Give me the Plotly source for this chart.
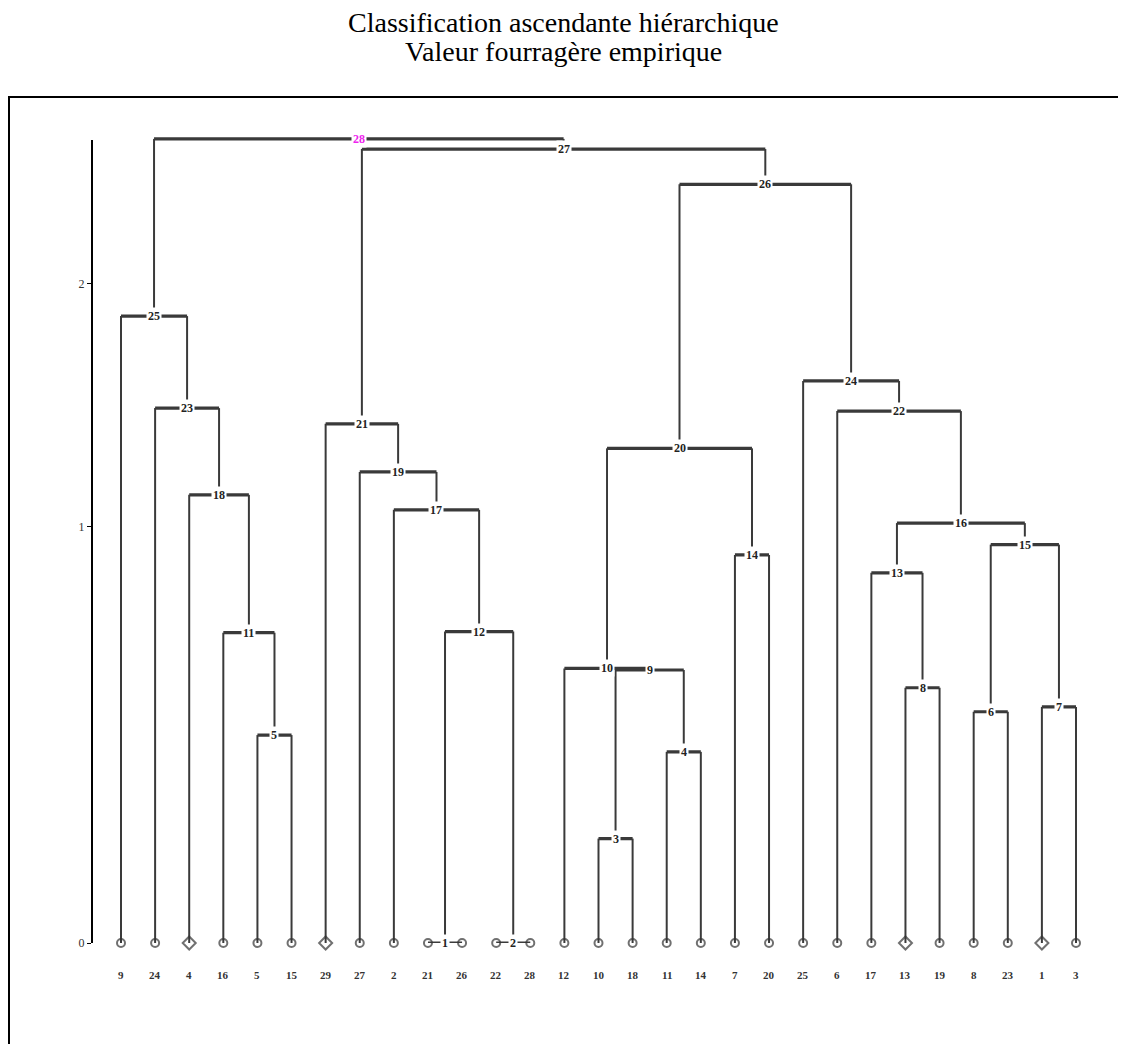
import math
import plotly.graph_objects as go

# ---------------- data ----------------
title_lines = ["Classification ascendante hiérarchique", "Valeur fourragère empirique"]

# leaves in dendrogram order (left to right)
leaf_labels = [9, 24, 4, 16, 5, 15, 29, 27, 2, 21, 26, 22, 28, 12, 10, 18,
               11, 14, 7, 20, 25, 6, 17, 13, 19, 8, 23, 1, 3]
diamond_leaves = [4, 29, 13, 1]

# merges k = 1..28 ; "L<n>" = leaf n, "N<k>" = node k
merge_left = ["L21", "L22", "L10", "L11", "L5", "L8", "L1", "L13", "N3", "L12",
              "L16", "N1", "L17", "L7", "N6", "N13", "L2", "L4", "L27", "N10",
              "L29", "L6", "L24", "L25", "L9", "N20", "N21", "N25"]
merge_right = ["L26", "L28", "L18", "L14", "L15", "L23", "L3", "L19", "N4", "N9",
               "N5", "N2", "N8", "L20", "N7", "N15", "N12", "N11", "N17", "N14",
               "N19", "N16", "N18", "N22", "N23", "N24", "N26", "N27"]
merge_heights = [0.0, 0.0, 0.19, 0.375, 0.414, 0.47, 0.482, 0.53, 0.576, 0.58,
                 0.677, 0.68, 0.853, 0.909, 0.942, 1.013, 1.058, 1.11, 1.192, 1.28,
                 1.375, 1.426, 1.438, 1.551, 1.842, 2.54, 2.754, 2.818]
y_ticks = [0, 1, 2]
highlight_node = 28

# ---------------- layout helpers (page pixels; figure sits 8px in) ----------------
def T(h):
    return math.log10(1.0 + h)

OFF = 8
W, H = 1126 - OFF, 1044 - OFF
PL, PR, PT, PB = 92, 1110, 125, 943          # plot area (page px)
AX_TOP = 140                                  # top of the drawn axis line (page px)
LEAF0, LEAFN = 121, 1076                      # first / last leaf (page px)
K = 1382.0                                    # px per log unit
ppu = (LEAFN - LEAF0) / (len(leaf_labels) - 1)
x_range = [-(LEAF0 - PL) / ppu, (len(leaf_labels) - 1) + (PR - LEAFN) / ppu]
y_range = [0, (PB - PT) / K]

def paper_x(p):
    return (p - PL) / (PR - PL)
def paper_y(p):
    return (PB - p) / (PB - PT)

leaf_pos = {lab: i for i, lab in enumerate(leaf_labels)}
node_x, node_h = {}, {}

def coords(ref):
    if ref.startswith("L"):
        return leaf_pos[int(ref[1:])], 0.0
    k = int(ref[1:])
    return node_x[k], node_h[k]

hx, hy, vx, vy = [], [], [], []
for k, (a, b, h) in enumerate(zip(merge_left, merge_right, merge_heights), start=1):
    xa, ha = coords(a)
    xb, hb = coords(b)
    vx += [xa, xa, None, xb, xb, None]
    vy += [T(ha), T(h), None, T(hb), T(h), None]
    hx += [xa, xb, None]
    hy += [T(h), T(h), None]
    node_x[k] = (xa + xb) / 2
    node_h[k] = h

line_col = "#3a3a3a"
fig = go.Figure()
fig.add_trace(go.Scatter(x=vx, y=vy, mode="lines", line=dict(color=line_col, width=2),
                         cliponaxis=False, hoverinfo="skip", showlegend=False))
fig.add_trace(go.Scatter(x=hx, y=hy, mode="lines", line=dict(color=line_col, width=3.2),
                         cliponaxis=False, hoverinfo="skip", showlegend=False))

# leaf markers
sym = ["diamond-open" if l in diamond_leaves else "circle-open" for l in leaf_labels]
siz = [10 if l in diamond_leaves else 8 for l in leaf_labels]
fig.add_trace(go.Scatter(x=list(range(len(leaf_labels))), y=[0] * len(leaf_labels),
                         mode="markers", cliponaxis=False, showlegend=False,
                         marker=dict(symbol=sym, size=siz, color="#333333",
                                     line=dict(width=2, color="#333333"))))

annotations = []
# node labels on horizontal bars
for k in range(1, len(merge_heights) + 1):
    annotations.append(dict(
        x=node_x[k], y=T(node_h[k]), xref="x", yref="y", text=str(k), showarrow=False,
        font=dict(family="Liberation Serif", size=12,
                  color="#ee22ee" if k == highlight_node else "#222222", weight="bold"),
        bgcolor="white", borderpad=1))
# leaf labels
for i, lab in enumerate(leaf_labels):
    annotations.append(dict(
        x=i, y=0, xref="x", yref="y", text=str(lab), showarrow=False, yshift=-32,
        font=dict(family="Liberation Serif", size=11, color="#333333", weight="bold")))
# title (two lines)
for line, yc in zip(title_lines, [22, 52]):
    annotations.append(dict(
        x=paper_x(1126 / 2 + 0.5), y=paper_y(yc), xref="paper", yref="paper",
        text=line, showarrow=False, yanchor="middle", xanchor="center",
        font=dict(family="Liberation Serif", size=28, color="black")))

fig.update_layout(
    width=W, height=H,
    margin=dict(l=PL - OFF, r=W - (PR - OFF), t=PT - OFF, b=H - (PB - OFF)),
    paper_bgcolor="white", plot_bgcolor="white",
    xaxis=dict(range=x_range, visible=False),
    yaxis=dict(range=y_range, tickvals=[T(v) for v in y_ticks],
               ticktext=[str(v) for v in y_ticks], showline=False,
               ticks="outside", ticklen=4, tickwidth=1, tickcolor="black",
               showgrid=False, zeroline=False,
               tickfont=dict(family="Liberation Serif", size=12, color="#333333")),
    annotations=annotations,
    shapes=[
        dict(type="line", xref="paper", yref="y", x0=0, x1=0,
             y0=0, y1=(PB - AX_TOP) / K, line=dict(color="black", width=2)),
        dict(type="rect", xref="paper", yref="paper",
             x0=paper_x(9), x1=paper_x(1140), y0=paper_y(1060), y1=paper_y(97),
             line=dict(color="black", width=2), fillcolor="rgba(0,0,0,0)",
             layer="below"),
    ],
    showlegend=False,
)

fig.write_html("out.html")
